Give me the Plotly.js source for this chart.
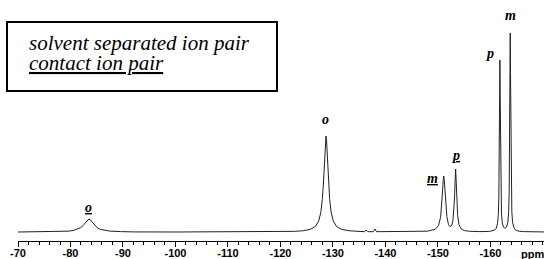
<!DOCTYPE html>
<html>
<head>
<meta charset="utf-8">
<script src="https://cdn.plot.ly/plotly-3.0.1.min.js"></script>
<style>html,body{margin:0;padding:0;background:#fff;}#chart{width:544px;height:259px;}</style>
</head>
<body>
<div id="chart"></div>
<script>
// Chemical shift (ppm) and intensity
const shiftPpm = [
  -70, -75, -77.5, -79.5, -80.5, -81.3, -81.9, -82.4, -82.9, -83.2, -83.5, -83.8, -84.1, -84.6, -85.1, -85.7, -86.5, -87.5, -89.5, -92,
  -100, -110, -118, -122.7, -124.2, -125.67, -126.67, -127.27, -127.67, -127.97, -128.17, -128.27, -128.37, -128.47, -128.57, -128.67,
  -128.77, -128.87, -128.97, -129.07, -129.17, -129.37, -129.67, -130.07, -130.67, -131.67, -133.17, -134.67,
  -136.0, -136.3, -136.6, -137.7, -138.0, -138.3, -142, -146, -148, -149.5, -150.1, -150.5, -150.75, -150.9, -151.0, -151.1,
  -151.2, -151.3, -151.45, -151.7, -152.0, -152.2, -152.45, -152.65, -152.85, -153.05, -153.15, -153.25, -153.37,
  -153.5, -153.6, -153.75, -154.0, -154.4, -155, -156, -158, -159.8, -160.8, -161.1, -161.35, -161.5, -161.6, -161.65,
  -161.7, -161.75, -161.78, -161.8, -161.82, -161.85, -161.9, -161.95, -162.0, -162.1, -162.25, -162.5, -162.8,
  -163.07, -163.32, -163.47, -163.57, -163.62, -163.67, -163.72, -163.75, -163.77, -163.79, -163.82, -163.87, -163.92,
  -163.97, -164.07, -164.22, -164.47, -164.77, -165.27, -166.27, -167.8, -170.2
];
const intensity = [
  0, 0.1, 0.3, 0.8, 1.5, 2.6, 4.2, 6.5, 10, 12.1, 13, 12.1, 10, 6.5, 4.2, 2.6, 1.5, 0.9, 0.4, 0.1,
  0, 0, 0.2, 0.66, 1.2, 2.6, 5.6, 10.9, 19.2, 32.4, 48, 58.5, 70.6, 82.8, 92.3, 96,
  92.3, 82.8, 70.6, 58.5, 48, 32.4, 19.2, 10.9, 5.6, 2.6, 1.2, 0.66,
  0.3, 2, 0.3, 0.3, 3, 0.3, 0.3, 0.3, 0.8, 2.8, 6.4, 14.6, 28.4, 42.6, 52.2, 56,
  52.4, 42.9, 28.8, 15.3, 7.5, 5.8, 5.6, 7.0, 11.5, 22, 33, 49.5, 63,
  47, 31, 16.6, 7.5, 3.2, 1.5, 0.7, 0.4, 0.6, 1.9, 3.7, 8.4, 17.6, 34.8, 53.3,
  86.4, 138, 165.4, 172, 165.8, 138.2, 86.6, 53.5, 35, 17.9, 9.0, 4.7, 3.8,
  5.0, 10, 20.5, 40.3, 61.7, 100, 159.7, 191.7, 199, 191.8, 159.6, 99.9, 61.6,
  40.2, 20.2, 9.5, 4.2, 2.1, 0.95, 0.4, 0.15, 0.05
];
// Axis tick labels
const tickPpm = [-70, -80, -90, -100, -110, -120, -130, -140, -150, -160];
const tickText = ['-70', '-80', '-90', '-100', '-110', '-120', '-130', '-140', '-150', '-160'];
// Peak assignments (label, ppm, label height)
const peakLabels = ['<u>o</u>', 'o', '<u>m</u>', '<u>p</u>', 'p', 'm'];
const peakLabelPpm = [-83.5, -128.67, -149.05, -153.37, -159.9, -163.85];
const peakLabelY = [25, 113, 54, 77, 179, 217];
// Legend lines
const legendLines = ['solvent separated ion pair', '<u>contact ion pair</u>'];

const SERIF = 'Liberation Serif';
const SANS = 'Liberation Sans';

const annotations = peakLabels.map((t, i) => ({
  text: t, x: peakLabelPpm[i], y: peakLabelY[i], xref: 'x', yref: 'y',
  showarrow: false, xanchor: 'center', yanchor: 'middle',
  font: {family: SERIF, size: 14, color: '#000', style: 'italic', weight: 'bold'}
}));
const legY = [43, 63];
legendLines.forEach((t, i) => annotations.push({
  text: t, xref: 'paper', yref: 'paper',
  x: (27 - 18) / 526, y: (241 - legY[i]) / 241, xanchor: 'left', yanchor: 'middle',
  showarrow: false, font: {family: SERIF, size: 21, color: '#000', style: 'italic'}
}));
annotations.push({
  text: 'ppm', xref: 'x', yref: 'paper', x: -168.1, y: (241 - 254) / 241,
  xanchor: 'center', yanchor: 'middle', showarrow: false,
  font: {family: SANS, size: 11, color: '#000', weight: 'bold'}
});

const trace = {
  x: shiftPpm, y: intensity, type: 'scatter', mode: 'lines',
  line: {color: '#222', width: 1}, hoverinfo: 'skip'
};

const layout = {
  width: 544, height: 259,
  margin: {l: 18, r: 0, t: 0, b: 18},
  paper_bgcolor: '#fff', plot_bgcolor: '#fff',
  showlegend: false,
  font: {family: SANS},
  xaxis: {
    range: [-70, -170.2], showgrid: false, zeroline: false,
    showline: true, linecolor: '#000', linewidth: 1,
    tickmode: 'array', tickvals: tickPpm, ticktext: tickText,
    ticks: 'outside', ticklen: 5, tickcolor: '#000', tickwidth: 1,
    ticklabelstandoff: -3,
    tickfont: {family: SANS, size: 11, color: '#000', weight: 'bold'},
    minor: {tickmode: 'linear', tick0: -70, dtick: 2, ticks: 'outside', ticklen: 3, tickcolor: '#000', tickwidth: 1, showgrid: false}
  },
  yaxis: {range: [-9, 232], visible: false, showgrid: false, zeroline: false},
  shapes: [{
    type: 'rect', xref: 'paper', yref: 'paper',
    x0: (7 - 18) / 526, x1: (277 - 18) / 526, y0: (241 - 91) / 241, y1: (241 - 22) / 241,
    line: {color: '#000', width: 2}, fillcolor: 'rgba(0,0,0,0)'
  }],
  annotations: annotations
};

Plotly.newPlot('chart', [trace], layout, {displayModeBar: false, staticPlot: true});
</script>
</body>
</html>
